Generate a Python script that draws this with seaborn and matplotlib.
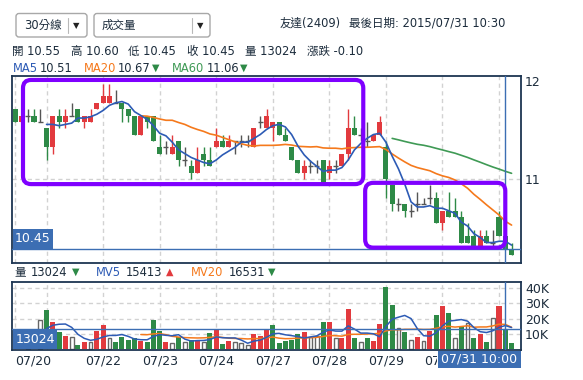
import numpy as np
import pandas as pd
import matplotlib
matplotlib.use("Agg")
import matplotlib.pyplot as plt
from matplotlib.patches import FancyBboxPatch, Rectangle
from matplotlib.lines import Line2D
from matplotlib.transforms import Affine2D, Bbox
import seaborn as sns

# 友達(2409), 30-minute bars: last five bars of 07/20, then 07/21 .. 07/31 10:30
opens = [11.55, 11.45, 11.50, 11.50, 11.45,
         11.40, 11.25, 11.50, 11.45, 11.50, 11.55, 11.45, 11.45, 11.55,
         11.60, 11.60, 11.60, 11.60, 11.55, 11.50, 11.35, 11.50, 11.50,
         11.25, 11.25, 11.20, 11.30, 11.15, 11.10, 11.05, 11.20, 11.15,
         11.25, 11.30, 11.25, 11.30, 11.30, 11.30, 11.25, 11.45, 11.40,
         11.40, 11.45, 11.35, 11.25, 11.15, 11.05, 11.10, 11.10, 11.15,
         11.05, 11.10, 11.10, 11.20, 11.40, 11.35, 11.30, 11.30, 11.35,
         11.25, 10.95, 10.80, 10.80, 10.75, 10.80, 10.80, 10.85, 10.85,
         10.65, 10.75, 10.75, 10.70, 10.55, 10.55, 10.45, 10.55, 10.50,
         10.70, 10.55, 10.45]
highs = [11.55, 11.50, 11.55, 11.55, 11.55,
         11.40, 11.50, 11.55, 11.55, 11.60, 11.55, 11.50, 11.55, 11.60,
         11.75, 11.75, 11.70, 11.60, 11.55, 11.50, 11.50, 11.50, 11.50,
         11.35, 11.30, 11.35, 11.30, 11.25, 11.15, 11.25, 11.25, 11.25,
         11.40, 11.35, 11.35, 11.30, 11.35, 11.35, 11.40, 11.50, 11.55,
         11.45, 11.45, 11.40, 11.25, 11.15, 11.15, 11.15, 11.15, 11.15,
         11.15, 11.15, 11.20, 11.55, 11.50, 11.40, 11.45, 11.35, 11.50,
         11.30, 10.95, 10.85, 10.80, 10.80, 10.90, 10.85, 10.95, 10.90,
         10.75, 10.90, 10.85, 10.75, 10.65, 10.60, 10.60, 10.60, 10.60,
         10.75, 10.60, 10.50]
lows = [11.45, 11.45, 11.45, 11.45, 11.45,
        11.15, 11.20, 11.40, 11.40, 11.50, 11.45, 11.40, 11.45, 11.55,
        11.60, 11.60, 11.60, 11.45, 11.45, 11.35, 11.35, 11.40, 11.30,
        11.20, 11.20, 11.20, 11.10, 11.10, 11.00, 11.05, 11.10, 11.10,
        11.25, 11.25, 11.25, 11.20, 11.25, 11.25, 11.25, 11.40, 11.40,
        11.30, 11.35, 11.30, 11.15, 11.05, 11.00, 11.05, 11.05, 10.95,
        11.00, 11.05, 11.10, 11.15, 11.35, 11.30, 11.25, 11.30, 11.35,
        10.85, 10.75, 10.75, 10.70, 10.70, 10.75, 10.80, 10.80, 10.65,
        10.60, 10.70, 10.70, 10.50, 10.50, 10.45, 10.45, 10.50, 10.45,
        10.55, 10.45, 10.40]
closes = [11.45, 11.50, 11.50, 11.45, 11.45,
          11.25, 11.50, 11.45, 11.50, 11.50, 11.45, 11.50, 11.50, 11.60,
          11.65, 11.65, 11.60, 11.55, 11.50, 11.35, 11.50, 11.45, 11.30,
          11.20, 11.25, 11.25, 11.15, 11.15, 11.05, 11.15, 11.15, 11.10,
          11.30, 11.25, 11.30, 11.30, 11.30, 11.30, 11.40, 11.45, 11.50,
          11.45, 11.35, 11.30, 11.15, 11.05, 11.10, 11.10, 11.10, 10.95,
          11.10, 11.10, 11.20, 11.40, 11.35, 11.35, 11.30, 11.35, 11.45,
          11.00, 10.80, 10.80, 10.75, 10.75, 10.80, 10.80, 10.85, 10.65,
          10.75, 10.70, 10.70, 10.50, 10.50, 10.45, 10.55, 10.50, 10.50,
          10.55, 10.45, 10.40]
volumes = [9000, 7000, 8000, 8000, 18900,
           25400, 17800, 11300, 8700, 8000, 2600, 4800, 5000, 12000,
           15700, 7400, 4800, 8000, 5900, 7000, 5300, 4500, 18900,
           12100, 4500, 3900, 8000, 4400, 5900, 5900, 4400, 10900,
           13000, 3300, 5200, 4400, 3800, 2800, 10200, 8700, 13000,
           15700, 4100, 5500, 6000, 9800, 11000, 7800, 8900, 17600,
           17600, 7200, 7600, 26000, 7200, 4600, 7200, 5400, 16300,
           40500, 28500, 13700, 11100, 6100, 7800, 5400, 12200, 22200,
           28200, 23700, 7600, 15000, 17000, 7400, 10200, 4800, 20600,
           28400, 13024, 3900]

day_starts = [0, 5, 14, 23, 32, 41, 50, 59, 68, 77]
# 07/21 is skipped by the site (no room), 07/31 sits under the cursor tag
tick_bars = [0, 14, 23, 32, 41, 50, 59, 68]
tick_labels = ["07/20", "07/22", "07/23", "07/24", "07/27", "07/28", "07/29", "07/30"]
cursor = 78  # 07/31 10:00

UP, DOWN, FLAT = "#e23a3e", "#2e8a47", "#555555"
MA5_C, MA20_C, MA60_C = "#2d5bb5", "#f5791c", "#3f9a55"
FRAME, GRID, CURSOR = "#1d3552", "#d2d2d2", "#3c6eb3"
TXT = "#1c2c3c"
PURPLE = "#7f00ff"

df = pd.DataFrame({"open": opens, "high": highs, "low": lows,
                   "close": closes, "volume": volumes})
df["bar"] = np.arange(len(df))
for n in (5, 20, 60):
    ma = df["close"].rolling(n).mean()
    ma.iloc[:n] = np.nan  # the site starts each line one bar late
    df[f"ma{n}"] = ma
for n in (5, 20):
    mv = df["volume"].rolling(n).mean()
    mv.iloc[:n] = np.nan
    df[f"mv{n}"] = mv

sns.set_theme(style="white")
plt.rcParams["font.family"] = ["DejaVu Sans", "Noto Sans CJK TC"]

W, H = 583, 380
fig = plt.figure(figsize=(W / 100, H / 100), dpi=100)
PIX = Affine2D().scale(1 / W, -1 / H).translate(0, 1) + fig.transFigure

ax = fig.add_axes([12 / W, 1 - 263 / H, 509 / W, 187 / H])
ax_v = fig.add_axes([12 / W, 1 - 350 / H, 509 / W, 68 / H])

# ---- price panel
up = df["close"] > df["open"]
down = df["close"] < df["open"]
flat = ~(up | down)
for mask, col in [(up, UP), (down, DOWN)]:
    d = df[mask]
    ax.vlines(d["bar"], d["low"], d["high"], color=col, lw=1, zorder=2)
    ax.bar(d["bar"], (d["close"] - d["open"]).abs(), bottom=d[["open", "close"]].min(axis=1),
           width=0.8, color=col, lw=0, zorder=3)
d = df[flat]
ax.vlines(d["bar"], d["low"], d["high"], color=FLAT, lw=1, zorder=2)
ax.hlines(d["close"], d["bar"] - 0.4, d["bar"] + 0.4, color=FLAT, lw=1, zorder=2)

for col, c in [("ma60", MA60_C), ("ma20", MA20_C), ("ma5", MA5_C)]:
    sns.lineplot(data=df, x="bar", y=col, ax=ax, color=c, lw=1.2, estimator=None, zorder=4)

ax.set_xlim(-0.5, 80.5)
ax.set_ylim(10.339, 11.811)
for b in day_starts:
    ax.axvline(b, color=GRID, lw=1, ls=(0, (3, 2.5)), zorder=0.5)
ax.axhline(11, color=GRID, lw=1, ls=(0, (3, 2.5)), zorder=0.5)
ax.axvline(cursor, color=CURSOR, lw=1, zorder=5)
ax.axhline(df["close"][cursor], color=CURSOR, lw=1, zorder=5)

# the site prints the top of its price scale rounded to "12"
ax.set_yticks([11.77, 11.0], ["12", "11"])
ax.set_xticks([])

# ---- volume panel
chg = df["close"].diff()
v_up, v_flat = chg > 0, chg == 0
v_down = ~(v_up | v_flat)
for mask, col in [(v_up, UP), (v_down, DOWN)]:
    ax_v.bar(df.loc[mask, "bar"], df.loc[mask, "volume"], width=0.8, color=col, lw=0, zorder=2)
ax_v.bar(df.loc[v_flat, "bar"], df.loc[v_flat, "volume"], width=0.6,
         facecolor="white", edgecolor="#666666", lw=1, zorder=2)
for col, c in [("mv20", MA20_C), ("mv5", MA5_C)]:
    sns.lineplot(data=df, x="bar", y=col, ax=ax_v, color=c, lw=1.1, estimator=None, zorder=4)

ax_v.set_xlim(-0.5, 80.5)
ax_v.set_ylim(-500, 43800)
for b in day_starts:
    ax_v.axvline(b, color=GRID, lw=1, ls=(0, (3, 2.5)), zorder=0.5)
for v in (10000, 20000, 30000, 40000):
    ax_v.axhline(v, color=GRID, lw=1, ls=(0, (3, 2.5)), zorder=0.5)
ax_v.axvline(cursor, color=CURSOR, lw=1, zorder=5)
ax_v.axhline(df["volume"][cursor], color=CURSOR, lw=1, zorder=5)
ax_v.set_yticks([10000, 20000, 30000, 40000], ["10K", "20K", "30K", "40K"])
ax_v.set_xticks(tick_bars, tick_labels)
xt = ax_v.get_xticklabels()
xt[0].set_ha("left")
# the cursor tag hides the right half of "07/30"
xt[-1].set_clip_box(Bbox.from_extents(0, 0, 437, H))

for a in (ax, ax_v):
    a.set_xlabel("")
    a.set_ylabel("")
    a.yaxis.tick_right()
    a.tick_params(axis="both", length=0, labelsize=9, labelcolor=TXT, pad=3)
    for s in a.spines.values():
        s.set_color(FRAME)
        s.set_linewidth(1.3)
        s.set_visible(True)

# ---- purple hand-drawn highlights
aspect = (np.diff(ax.get_ylim())[0] / ax.bbox.height) / (np.diff(ax.get_xlim())[0] / ax.bbox.width)
for i0, i1, p0, p1 in [(1.25, 55.4, 10.96, 11.78), (55.7, 78.0, 10.46, 10.97)]:
    ax.add_patch(FancyBboxPatch((i0, p0), i1 - i0, p1 - p0,
                                boxstyle="round,pad=0,rounding_size=1.3", mutation_aspect=aspect,
                                fc="none", ec=PURPLE, lw=3, zorder=6, clip_on=False))

# ---- value tags on the cursor lines
y_close = H - ax.transData.transform((0, df["close"][cursor]))[1]
fig.add_artist(Rectangle((12.7, y_close - 20), 40.3, 20, transform=PIX, fc=CURSOR, ec="none", zorder=7))
fig.text(33, y_close - 10, f"{df['close'][cursor]:.2f}", transform=PIX, color="white",
         fontsize=9, ha="center", va="center", zorder=8)
y_vol = H - ax_v.transData.transform((0, df["volume"][cursor]))[1]
fig.add_artist(Rectangle((12.7, y_vol), 44.6, 349.3 - y_vol, transform=PIX, fc=CURSOR, ec="none", zorder=7))
fig.text(35, (y_vol + 349.3) / 2, f"{df['volume'][cursor]}", transform=PIX, color="white",
         fontsize=9, ha="center", va="center", zorder=8)
fig.add_artist(Rectangle((438, 351), 83, 17, transform=PIX, fc=CURSOR, ec="none", zorder=7))
fig.text(479.5, 359.5, "07/31 10:00", transform=PIX, color="white",
         fontsize=9, ha="center", va="center", zorder=8)


def label(x, y, s, color=TXT, size=8.3, **kw):
    fig.text(x, y, s, transform=PIX, color=color, fontsize=size, va="center", **kw)


# ---- header
for x0, x1, xdiv, name in [(16, 87, 67.7, "30分線"), (94, 210, 191.7, "成交量")]:
    fig.add_artist(FancyBboxPatch((x0, 13.5), x1 - x0, 23.5, boxstyle="round,pad=0,rounding_size=3",
                                  transform=PIX, fc="white", ec="#a8a8a8", lw=1))
    fig.add_artist(Line2D([xdiv, xdiv], [18, 33], transform=PIX, color="#b8b8b8", lw=0.8))
    label(x0 + 8, 25.5, name, size=8.3)
    label(xdiv + 8.5, 25.5, "▼", color="#222222", size=6, ha="center")

label(280, 23, "友達(2409)")
label(505, 23, "最後日期: 2015/07/31 10:30", ha="right")

for x, s in [(12, "開 10.55"), (71, "高 10.60"), (128, "低 10.45"),
             (187, "收 10.45"), (245, "量 13024"), (307, "漲跌 -0.10")]:
    label(x, 51, s)

for x, s, c, sz in [(13, "MA5", MA5_C, 8.3), (40, "10.51", TXT, 8.3),
                    (84, "MA20", MA20_C, 8.3), (118, "10.67", TXT, 8.3), (152, "▼", DOWN, 7),
                    (172, "MA60", MA60_C, 8.3), (207, "11.06", TXT, 8.3), (240, "▼", DOWN, 7)]:
    label(x, 68, s, color=c, size=sz)

for x, s, c, sz in [(14, "量", TXT, 8.3), (31, "13024", TXT, 8.3), (72, "▼", DOWN, 7),
                    (96, "MV5", MA5_C, 8.3), (126, "15413", TXT, 8.3), (166, "▲", UP, 7),
                    (191, "MV20", MA20_C, 8.3), (229, "16531", TXT, 8.3), (268, "▼", DOWN, 7)]:
    label(x, 272, s, color=c, size=sz)

fig.savefig("out.png", dpi=100)
